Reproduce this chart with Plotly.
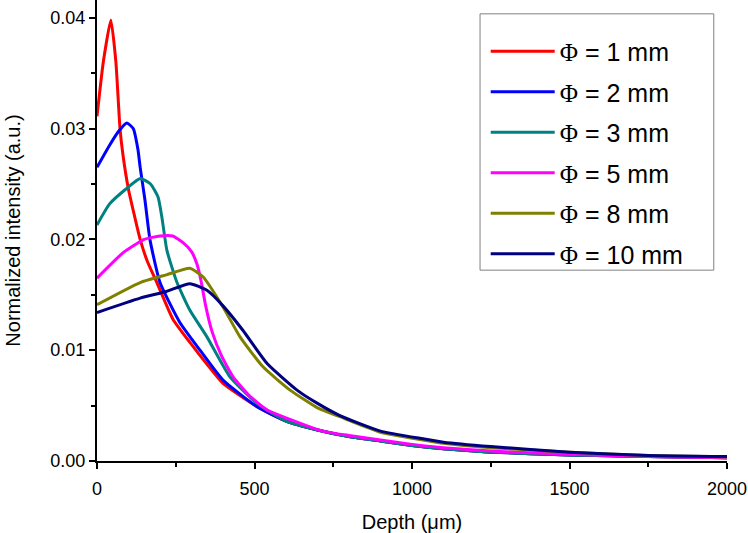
import plotly.graph_objects as go

labels = ["1", "2", "3", "5", "8", "10"]
colors = ["#ff0000", "#0000ff", "#008080", "#ff00ff", "#808000", "#000080"]

x_red = [0, 20, 44, 60, 73, 83, 100, 120, 137, 160, 190, 241, 295, 350, 400, 508, 600, 700, 800, 900, 1000, 1100, 1250, 1500, 1750, 2000]
y_red = [0.0311, 0.0360, 0.0398, 0.0360, 0.0300, 0.0275, 0.0245, 0.0220, 0.0200, 0.0180, 0.0161, 0.0128, 0.0107, 0.0087, 0.0070, 0.0049, 0.0036, 0.0028, 0.0022, 0.0018, 0.0014, 0.0011, 0.0008, 0.00055, 0.0004, 0.0003]

x_blue = [0, 40, 70, 95, 115, 130, 137, 152, 168, 200, 263, 327, 400, 508, 600, 700, 800, 900, 1000, 1100, 1250, 1500, 1750, 2000]
y_blue = [0.0265, 0.0285, 0.0298, 0.0305, 0.0300, 0.0281, 0.0265, 0.0236, 0.0200, 0.0161, 0.0125, 0.0100, 0.0073, 0.0049, 0.0036, 0.0028, 0.0022, 0.0018, 0.0014, 0.0011, 0.0008, 0.00055, 0.0004, 0.0003]

x_teal = [0, 40, 90, 137, 170, 194, 206, 222, 254, 295, 349, 422, 508, 600, 700, 800, 900, 1000, 1100, 1250, 1500, 1750, 2000]
y_teal = [0.0213, 0.0232, 0.0245, 0.0255, 0.0250, 0.0238, 0.0220, 0.0190, 0.0161, 0.0136, 0.0112, 0.0076, 0.0052, 0.0036, 0.0028, 0.0022, 0.0018, 0.0014, 0.0011, 0.0008, 0.00055, 0.0004, 0.0003]

x_mag = [0, 83, 150, 200, 240, 273, 300, 317, 330, 345, 365, 395, 432, 480, 540, 600, 717, 800, 900, 1000, 1100, 1250, 1500, 1750, 2000]
y_mag = [0.0165, 0.0188, 0.0200, 0.0203, 0.0203, 0.0197, 0.0189, 0.0178, 0.0163, 0.0140, 0.0117, 0.0095, 0.0076, 0.0060, 0.0046, 0.0039, 0.0027, 0.0023, 0.0019, 0.0015, 0.0012, 0.0009, 0.0006, 0.0004, 0.0003]

x_olive = [0, 137, 220, 295, 337, 400, 454, 527, 613, 700, 771, 900, 1035, 1100, 1250, 1500, 1750, 2000]
y_olive = [0.0141, 0.0161, 0.0168, 0.0174, 0.0166, 0.0139, 0.0112, 0.0085, 0.0064, 0.0048, 0.0040, 0.0026, 0.0019, 0.0016, 0.0012, 0.0008, 0.0005, 0.00035]

x_navy = [0, 137, 220, 295, 349, 400, 463, 540, 635, 700, 771, 900, 1035, 1100, 1250, 1500, 1750, 2000]
y_navy = [0.0134, 0.0147, 0.0153, 0.0160, 0.0154, 0.0140, 0.0118, 0.0088, 0.0064, 0.0052, 0.0041, 0.0027, 0.0020, 0.0017, 0.0013, 0.0008, 0.0005, 0.0004]

series = [(x_red, y_red), (x_blue, y_blue), (x_teal, y_teal), (x_mag, y_mag), (x_olive, y_olive), (x_navy, y_navy)]

fig = go.Figure()
for (xs, ys), lab, col in zip(series, labels, colors):
    fig.add_trace(go.Scatter(
        x=xs, y=ys, mode="lines",
        line=dict(color=col, width=3, shape="spline", smoothing=0.5),
        name='<span style="font-family:Liberation Serif">Φ</span> = ' + lab + " mm",
        legendgroup=lab,
    ))

# legend frame
fig.add_shape(type="rect", xref="paper", yref="paper",
              x0=0.608, x1=0.979, y0=0.414, y1=0.970,
              line=dict(color="#808080", width=1), fillcolor="rgba(0,0,0,0)", layer="above")

fig.update_layout(
    width=748, height=533,
    margin=dict(l=97, r=21, t=0, b=72, autoexpand=False),
    plot_bgcolor="white", paper_bgcolor="white",
    font=dict(family="Liberation Sans, Arial, sans-serif", color="black"),
    showlegend=True,
    legend=dict(
        x=0.617, y=0.938, xanchor="left", yanchor="top",
        borderwidth=0, bgcolor="rgba(0,0,0,0)",
        font=dict(size=25), tracegroupgap=5, itemwidth=64,
    ),
    xaxis=dict(
        range=[0, 2000], tickvals=[0, 500, 1000, 1500, 2000],
        ticks="outside", ticklen=6, tickwidth=1.5, tickcolor="black",
        showline=True, linecolor="black", linewidth=2, showgrid=False, zeroline=False,
        minor=dict(dtick=250, ticks="outside", ticklen=4, tickcolor="black", showgrid=False),
        tickfont=dict(size=18), automargin=False, ticklabelstandoff=4,
        title=dict(text="Depth (μm)", font=dict(size=20), standoff=18),
    ),
    yaxis=dict(
        range=[0, 0.0416], tickvals=[0, 0.01, 0.02, 0.03, 0.04], tickformat=".2f",
        ticks="outside", ticklen=6, tickwidth=1.5, tickcolor="black",
        showline=True, linecolor="black", linewidth=2, showgrid=False, zeroline=False,
        minor=dict(dtick=0.005, ticks="outside", ticklen=4, tickcolor="black", showgrid=False),
        tickfont=dict(size=18), automargin=False,
        title=dict(text="Normalized intensity (a.u.)", font=dict(size=20), standoff=24),
    ),
)

fig.write_html("out.html", post_script="document.body.style.margin='0px';",
               config={"displayModeBar": False})
